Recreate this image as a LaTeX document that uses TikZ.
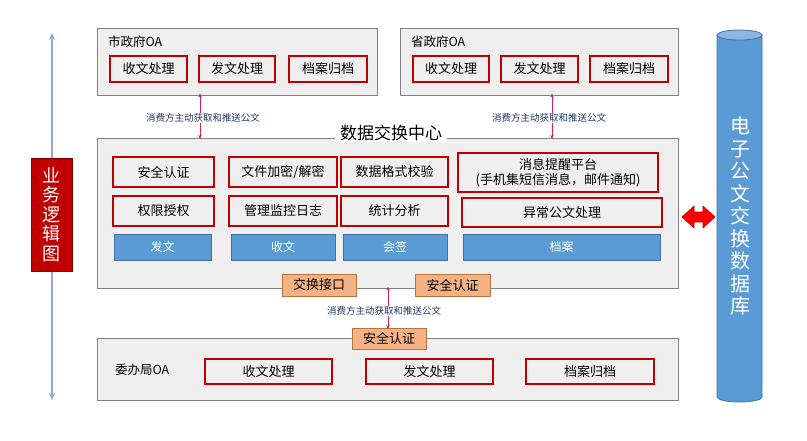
\documentclass[tikz,border=0pt]{standalone}
\usepackage{fontspec}
\setmainfont{Noto Sans CJK SC}
\usetikzlibrary{arrows.meta}
\definecolor{panelF}{HTML}{EFEFEF}
\definecolor{panelD}{HTML}{808080}
\definecolor{boxred}{HTML}{C00000}
\definecolor{blueF}{HTML}{5B9BD5}
\definecolor{blueD}{HTML}{41719C}
\definecolor{orangeF}{HTML}{F4B183}
\definecolor{orangeD}{HTML}{B8733E}
\definecolor{labelblue}{HTML}{1F3864}
\definecolor{connred}{HTML}{D6245A}
\definecolor{leftarrow}{HTML}{8FAADC}
\definecolor{cylTop}{HTML}{8DB6E2}
\newcommand\fsz[2]{\fontsize{#1}{#2}\selectfont}
\newcommand\bx[7]{\node[#6, anchor=north west, minimum width={(#4-#2)*1pt}, minimum height={(#5-#3)*1pt}] (#1) at (#2,#3) {#7};}
\begin{document}
\begin{tikzpicture}[x=1pt,y=-1pt,
  every node/.style={inner sep=0pt, outer sep=0pt},
  panel/.style={draw=panelD, fill=panelF, line width=0.8pt},
  redbox/.style={draw=boxred, fill=panelF, line width=1.6pt, font=\fsz{13}{15}},
  bluebox/.style={draw=blueD, fill=blueF, line width=0.4pt, text=white, font=\fsz{12}{14}},
  orangebox/.style={draw=orangeD, fill=orangeF, line width=1pt, font=\fsz{13}{15}},
  lbl/.style={fill=white, text=labelblue, font=\fsz{9.5}{11}, inner sep=1pt},
  conn/.style={draw=connred, line width=0.8pt, {Stealth[length=4pt,width=3.5pt]}-{Stealth[length=4pt,width=3.5pt]}},
  ptitle/.style={font=\fsz{12.5}{15}, anchor=west}
]
\useasboundingbox (0,0) rectangle (807,440);
\fill[white] (0,0) rectangle (807,440);

% left arrow and label box
\coordinate (la1) at (52,33);
\coordinate (la2) at (52,400);
\draw[leftarrow, line width=1.2pt, {Stealth[length=7pt,width=6pt]}-{Stealth[length=7pt,width=6pt]}] (la1) -- (la2);
\bx{lb}{31}{158}{72}{271}{fill=boxred, draw=boxred!70!black, line width=0.6pt}{}
\node[text=white, align=center, font=\fsz{18}{19.6}] (lbt) at (51.5,214.5) {业\\务\\逻\\辑\\图};

% panels
\bx{szOA}{97}{28}{377}{95}{panel}{}
\bx{sjOA}{400}{28}{678}{95}{panel}{}
\bx{ctr}{97}{138}{678}{288}{panel}{}
\bx{wbj}{97}{338}{678}{400}{panel}{}

\node[ptitle] (szT) at (108,42) {市政府OA};
\node[ptitle] (sjT) at (411,42) {省政府OA};
\node[fill=white, inner xsep=5pt, inner ysep=1pt, font=\fsz{17}{20}] (ctrT) at (391,133) {数据交换中心};
\node[ptitle] (wbjT) at (115,370) {委办局OA};

% top panels inner
\bx{sz1}{110}{56}{187}{82}{redbox}{收文处理}
\bx{sz2}{199}{56}{275}{82}{redbox}{发文处理}
\bx{sz3}{289}{56}{367}{82}{redbox}{档案归档}
\bx{sj1}{413}{56}{489}{82}{redbox}{收文处理}
\bx{sj2}{501}{56}{578}{82}{redbox}{发文处理}
\bx{sj3}{590}{56}{668}{82}{redbox}{档案归档}

% center inner
\bx{c11}{113}{157}{214}{187}{redbox}{安全认证}
\bx{c21}{229}{157}{337}{187}{redbox}{文件加密/解密}
\bx{c31}{341}{157}{448}{187}{redbox}{数据格式校验}
\bx{c41}{458}{153}{658}{192}{redbox, align=center}{消息提醒平台\\(手机集短信消息，邮件通知)}
\bx{c12}{113}{196}{214}{226}{redbox}{权限授权}
\bx{c22}{229}{196}{337}{226}{redbox}{管理监控日志}
\bx{c32}{341}{196}{448}{226}{redbox}{统计分析}
\bx{c42}{462}{198}{662}{227}{redbox}{异常公文处理}
\bx{b1}{114}{234}{211}{260}{bluebox}{发文}
\bx{b2}{231}{234}{335}{260}{bluebox}{收文}
\bx{b3}{343}{234}{447}{260}{bluebox}{会签}
\bx{b4}{463}{234}{660}{260}{bluebox}{档案}

% bottom inner
\bx{w1}{205}{359}{332}{384}{redbox}{收文处理}
\bx{w2}{366}{359}{493}{384}{redbox}{发文处理}
\bx{w3}{526}{359}{654}{384}{redbox}{档案归档}

% orange boxes
\bx{o1}{282}{274}{356}{296}{orangebox}{交换接口}
\bx{o2}{415}{274}{490}{296}{orangebox}{安全认证}
\bx{o3}{352}{328}{426}{349}{orangebox}{安全认证}

% connectors
\coordinate (xa) at (200,0);
\coordinate (xb) at (552,0);
\coordinate (xc) at (388,0);
\draw[conn] ([yshift=1.5pt]szOA.south -| xa) -- ([yshift=-1pt]ctr.north -| xa);
\node[lbl] (l1) at (203,118) {消费方主动获取和推送公文};
\draw[conn] ([yshift=1.5pt]sjOA.south -| xb) -- ([yshift=-1pt]ctr.north -| xb);
\node[lbl] (l2) at (549,118) {消费方主动获取和推送公文};
\draw[conn] ([yshift=1.5pt]ctr.south -| xc) -- ([yshift=-1pt]o3.north -| xc);
\node[lbl] (l3) at (384,311) {消费方主动获取和推送公文};

% cylinder
\fill[blueF] (717,35) -- (717,397) arc[start angle=180, end angle=0, x radius=22.5, y radius=5] -- (762,35) -- cycle;
\draw[blueD, line width=0.8pt] (717,35) -- (717,397) arc[start angle=180, end angle=0, x radius=22.5, y radius=5] -- (762,35);
\draw[blueD, fill=cylTop, line width=0.8pt] (739.5,35) ellipse[x radius=22.5, y radius=5];
\node[text=white, align=center, font=\fsz{20}{22.5}] (cyl) at (740,216) {电\\子\\公\\文\\交\\换\\数\\据\\库};

% red double arrow
\fill[red, draw=boxred, line width=0.6pt] (682,217) -- (694,206) -- (694,212) -- (703,212) -- (703,206) -- (715,217) -- (703,228) -- (703,222) -- (694,222) -- (694,228) -- cycle;
\end{tikzpicture}
\end{document}
